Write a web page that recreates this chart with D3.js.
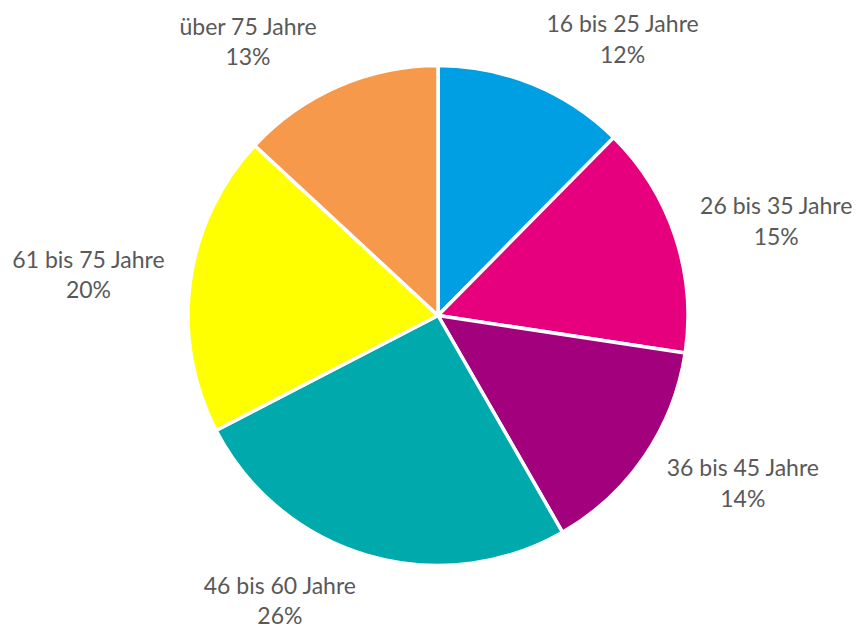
<!DOCTYPE html>
<html>
<head>
<meta charset="utf-8">
<script src="https://cdn.jsdelivr.net/npm/d3@7"></script>
<style>
  body { margin: 0; background: #fff; }
  text { font-family: Lato, "Open Sans", sans-serif; }
</style>
</head>
<body>
<svg id="chart" width="857" height="630"></svg>
<script>
const categories = ["16 bis 25 Jahre", "26 bis 35 Jahre", "36 bis 45 Jahre", "46 bis 60 Jahre", "61 bis 75 Jahre", "über 75 Jahre"];
const shares = [12.4, 15.0, 14.3, 25.7, 19.5, 13.1];
const colors = ["#009FE3", "#E6007E", "#A2007D", "#00A9AC", "#FFFF00", "#F7994A"];

const width = 857, height = 630;
const cx = 438, cy = 315.5, radius = 250;

const data = categories.map((c, i) => ({ name: c, value: shares[i], color: colors[i] }));

const svg = d3.select("#chart");
const g = svg.append("g").attr("transform", `translate(${cx},${cy})`);

const pie = d3.pie().sort(null).value((d) => d.value);
const arc = d3.arc().innerRadius(0).outerRadius(radius);
const arcs = pie(data);

g.selectAll(".slice")
  .data(arcs)
  .enter()
  .append("path")
  .attr("class", "slice")
  .attr("d", arc)
  .attr("fill", (d) => d.data.color)
  .attr("stroke", "#fff")
  .attr("stroke-width", 3.5)
  .attr("stroke-linejoin", "round");

// labels sit just outside the slice edge, pushed away from the pie
const labelR = radius + 20;
const halfW = 82, halfH = 28;
const labels = g.selectAll(".label")
  .data(arcs)
  .enter()
  .append("text")
  .attr("class", "label")
  .attr("text-anchor", "middle")
  .attr("fill", "#595959")
  .attr("font-size", "23px")
  .attr("transform", (d) => {
    const a = (d.startAngle + d.endAngle) / 2;
    const s = Math.sin(a), c = Math.cos(a);
    const x = labelR * s + halfW * Math.sign(s);
    const y = -labelR * c - halfH * c;
    return `translate(${x},${y})`;
  });

labels.append("tspan")
  .attr("x", 0)
  .attr("y", -7.5)
  .text((d) => d.data.name);
labels.append("tspan")
  .attr("x", 0)
  .attr("y", 23)
  .text((d) => Math.round(d.data.value) + "%");
</script>
</body>
</html>
